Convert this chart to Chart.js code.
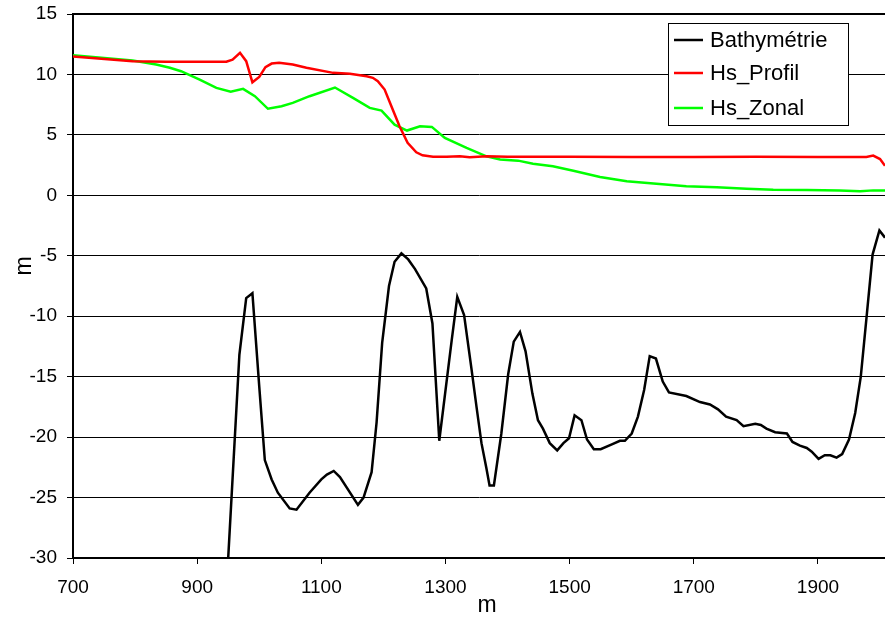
<!DOCTYPE html>
<html>
<head>
<meta charset="utf-8">
<title>Profil</title>
<script src="https://cdn.jsdelivr.net/npm/chart.js@4.4.0/dist/chart.umd.min.js"></script>
<style>
  html, body { margin: 0; padding: 0; background: #fff; overflow: hidden; }
  #myChart { display: block; }
</style>
</head>
<body>
<canvas id="myChart" width="885" height="618"></canvas>
<script>
// distance le long du profil (m) et valeurs (m)
var bathyX = [950, 968, 979, 989, 1000, 1009, 1020, 1030, 1049, 1060, 1081, 1100, 1109, 1120, 1130,
    1159, 1168, 1181, 1189, 1198, 1209, 1218, 1229, 1240, 1251, 1269, 1279, 1290, 1310, 1319,
    1330, 1342, 1350, 1358, 1366, 1371, 1378, 1390, 1401, 1410, 1420, 1429, 1440, 1449, 1457,
    1468, 1480, 1490, 1499, 1508, 1519, 1528, 1539, 1550, 1568, 1581, 1589, 1600, 1610, 1620,
    1629, 1639, 1650, 1660, 1688, 1710, 1726, 1739, 1752, 1769, 1780, 1799, 1808, 1817, 1831,
    1850, 1859, 1871, 1882, 1890, 1901, 1911, 1920, 1930, 1939, 1950, 1960, 1969, 1979, 1988,
    1999, 2008];
var bathyY = [-30, -13.2, -8.5, -8.1, -15.8, -21.9, -23.5, -24.6, -25.9, -26, -24.6, -23.5, -23.1, -22.8, -23.3,
    -25.6, -25.0, -22.9, -18.8, -12.2, -7.5, -5.5, -4.8, -5.3, -6.1, -7.7, -10.6, -20.3, -12.0, -8.4,
    -9.9, -14.4, -17.5, -20.5, -22.6, -24.0, -24.0, -19.7, -14.8, -12.1, -11.3, -12.9, -16.4, -18.6, -19.3,
    -20.5, -21.1, -20.5, -20.1, -18.2, -18.6, -20.2, -21.0, -21.0, -20.6, -20.3, -20.3, -19.7, -18.3, -16.1,
    -13.3, -13.5, -15.4, -16.3, -16.6, -17.1, -17.3, -17.7, -18.3, -18.6, -19.1, -18.9, -19.0, -19.3, -19.6,
    -19.7, -20.4, -20.7, -20.9, -21.2, -21.8, -21.5, -21.5, -21.7, -21.4, -20.2, -18.0, -15.0, -9.7, -4.9,
    -2.9, -3.5];

var profilX = [700, 796, 850, 904, 947, 957, 969, 979, 989, 1000, 1010, 1020, 1032, 1054, 1076,
    1119, 1146, 1173, 1183, 1191, 1202, 1215, 1226, 1239, 1253, 1263, 1280, 1302, 1323, 1339,
    1366, 1400, 1500, 1600, 1700, 1800, 1900, 1978, 1989, 2000, 2008];
var profilY = [11.48, 11.1, 11.06, 11.04, 11.05, 11.23, 11.79, 11.1, 9.35, 9.8, 10.6, 10.9, 10.96, 10.82, 10.55,
    10.13, 10.05, 9.85, 9.72, 9.44, 8.75, 7.1, 5.71, 4.34, 3.56, 3.31, 3.2, 3.2, 3.23, 3.15,
    3.23, 3.2, 3.2, 3.18, 3.18, 3.2, 3.18, 3.18, 3.29, 3.0, 2.45];

var zonalX = [700, 796, 834, 856, 874, 904, 931, 954, 974, 993, 1014, 1036, 1054, 1081, 1122,
    1151, 1178, 1197, 1218, 1238, 1259, 1278, 1299, 1334, 1366, 1388, 1417, 1441, 1473, 1506,
    1549, 1592, 1635, 1688, 1737, 1785, 1828, 1882, 1935, 1968, 1989, 2008];
var zonalY = [11.59, 11.15, 10.82, 10.55, 10.27, 9.58, 8.89, 8.57, 8.81, 8.2, 7.16, 7.37, 7.65, 8.2, 8.92,
    8.06, 7.23, 7.01, 5.85, 5.36, 5.71, 5.66, 4.75, 3.92, 3.23, 2.96, 2.87, 2.62, 2.4, 2.04,
    1.52, 1.16, 0.97, 0.75, 0.66, 0.55, 0.47, 0.45, 0.41, 0.33, 0.41, 0.41];

var xTicks = [700, 900, 1100, 1300, 1500, 1700, 1900];
var seriesNames = ['Bathymétrie', 'Hs_Profil', 'Hs_Zonal'];
var seriesColors = ['#000000', '#ff0000', '#00ff00'];
var xTitle = 'm', yTitle = 'm';

function pts(xs, ys) {
    var out = [];
    for (var i = 0; i < xs.length; i++) out.push({x: xs[i], y: ys[i]});
    return out;
}

var fontFam = "'Liberation Sans', Arial, sans-serif";
Chart.defaults.font.family = fontFam;
Chart.defaults.color = '#000';

// cadre haut + titres d'axes + legende encadree
var decor = {
    id: 'decor',
    afterDraw: function(chart) {
        var c = chart.ctx, a = chart.chartArea;
        c.save();
        c.strokeStyle = '#000';
        c.lineWidth = 2;
        c.beginPath();
        c.moveTo(a.left, a.top);
        c.lineTo(a.right, a.top);
        c.stroke();

        c.fillStyle = '#000';
        c.font = '23px ' + fontFam;
        c.textAlign = 'center';
        c.textBaseline = 'alphabetic';
        c.fillText(xTitle, (a.left + a.right) / 2 + 8, a.bottom + 54);
        c.save();
        c.translate(31, (a.top + a.bottom) / 2 - 20);
        c.rotate(-Math.PI / 2);
        c.fillText(yTitle, 0, 0);
        c.restore();

        // legende
        var bx = a.right - 217, by = a.top + 9, bw = 180, bh = 102;
        c.fillStyle = '#fff';
        c.fillRect(bx, by, bw, bh);
        c.lineWidth = 1;
        c.strokeStyle = '#000';
        c.strokeRect(bx + 0.5, by + 0.5, bw, bh);
        c.font = '22px ' + fontFam;
        c.textAlign = 'left';
        c.textBaseline = 'middle';
        var rows = [17, 50, 85];
        chart.data.datasets.forEach(function(ds, i) {
            var yy = by + rows[i];
            c.strokeStyle = ds.borderColor;
            c.lineWidth = 2.5;
            c.beginPath();
            c.moveTo(bx + 6, yy);
            c.lineTo(bx + 35, yy);
            c.stroke();
            c.fillStyle = '#000';
            c.fillText(ds.label, bx + 42, yy + 1);
        });
        c.restore();
    }
};

var ctx = document.getElementById('myChart').getContext('2d');
var myChart = new Chart(ctx, {
    type: 'line',
    data: {
        datasets: [
            {label: seriesNames[0], data: pts(bathyX, bathyY), borderColor: seriesColors[0]},
            {label: seriesNames[1], data: pts(profilX, profilY), borderColor: seriesColors[1]},
            {label: seriesNames[2], data: pts(zonalX, zonalY), borderColor: seriesColors[2]}
        ]
    },
    options: {
        responsive: false,
        animation: false,
        events: [],
        layout: {padding: {top: 14, left: 0, right: 0, bottom: 0}},
        elements: {
            line: {borderWidth: 2.5, tension: 0, fill: false},
            point: {radius: 0}
        },
        plugins: {legend: {display: false}, tooltip: {enabled: false}},
        scales: {
            x: {
                type: 'linear',
                min: 700,
                max: 2008,
                afterFit: function(s) { s.height = 60; s.paddingLeft = 0; s.paddingRight = 0; },
                afterBuildTicks: function(s) {
                    s.ticks = xTicks.map(function(v) { return {value: v}; });
                },
                border: {color: '#000', width: 2},
                grid: {drawOnChartArea: false, drawTicks: true, tickLength: 6, tickColor: '#000'},
                ticks: {maxRotation: 0, autoSkip: false, padding: 12,
                    font: {size: 19}, color: '#000',
                    callback: function(v) { return String(v); }}
            },
            y: {
                min: -30,
                max: 15,
                afterFit: function(s) { s.width = 73; s.paddingTop = 0; s.paddingBottom = 0; },
                border: {color: '#000', width: 2},
                grid: {color: '#000', lineWidth: 1, tickLength: 6, tickColor: '#000'},
                ticks: {stepSize: 5, padding: 10, font: {size: 19}, color: '#000'}
            }
        }
    },
    plugins: [decor]
});
</script>
</body>
</html>
